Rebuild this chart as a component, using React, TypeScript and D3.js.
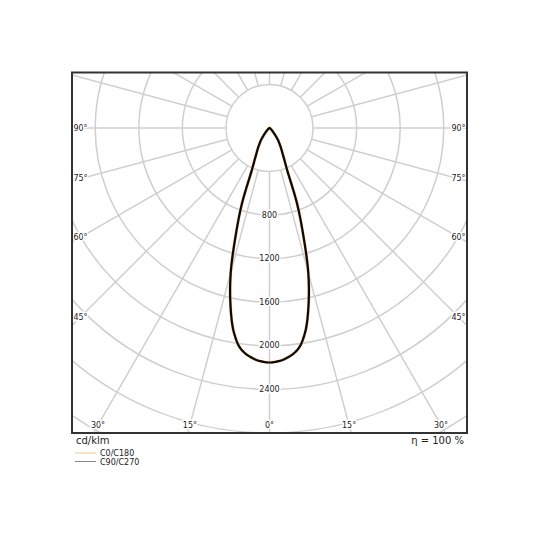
import React from "react";
import * as d3 from "d3";

// luminous intensity (cd/klm) against gamma angle
const gammas = [0, 2.5, 5, 7.5, 10, 12.5, 15, 17.5, 20, 22.5, 25, 27.5, 30, 32.5, 35, 37.5, 40, 45, 50, 55, 60, 70, 80, 90];
const c0c180 = [2153, 2140, 2105, 2041, 1896, 1657, 1375, 1030, 741, 436, 323, 255, 210, 170, 138, 100, 68, 35, 18, 9, 4, 1, 0, 0];
const c90c270 = [2153, 2140, 2105, 2041, 1896, 1657, 1375, 1030, 741, 436, 323, 255, 210, 170, 138, 100, 68, 35, 18, 9, 4, 1, 0, 0];

const ringValues = [400, 800, 1200, 1600, 2000, 2400, 2800, 3200, 3600];
const ringLabels = [800, 1200, 1600, 2000, 2400];
const spokeAngles = d3.range(0, 360, 15);
const sideLabels = [90, 75, 60, 45];
const bottomLabels = [-30, -15, 0, 15, 30];

const W = 540;
const H = 540;
const frame = { x0: 72, y0: 72.5, x1: 467, y1: 433 };
const cx = (frame.x0 + frame.x1) / 2;
const cy = 128;
const FONT = "DejaVu Sans, sans-serif";

const r = d3.scaleLinear().domain([0, 2800]).range([0, frame.y1 - cy]);

// angle 0 points down, positive to the right
const pt = (deg: number, v: number): [number, number] => {
  const a = (deg * Math.PI) / 180;
  return [cx + r(v) * Math.sin(a), cy + r(v) * Math.cos(a)];
};

// monotone cubic (Fritsch-Carlson) through the measured values, in gamma space
function monotone(xs: number[], ys: number[]) {
  const n = xs.length;
  const h = d3.range(n - 1).map((i) => xs[i + 1] - xs[i]);
  const s = d3.range(n - 1).map((i) => (ys[i + 1] - ys[i]) / h[i]);
  const m = d3.range(n).map((i) => {
    if (i === 0) return 0; // symmetric about nadir
    if (i === n - 1) return s[n - 2];
    if (s[i - 1] * s[i] <= 0) return 0;
    return (3 * (h[i - 1] + h[i])) / ((2 * h[i] + h[i - 1]) / s[i - 1] + (h[i] + 2 * h[i - 1]) / s[i]);
  });
  return (x: number) => {
    let i = d3.bisectRight(xs, x) - 1;
    i = Math.max(0, Math.min(n - 2, i));
    const t = (x - xs[i]) / h[i];
    const t2 = t * t;
    const t3 = t2 * t;
    return (
      (2 * t3 - 3 * t2 + 1) * ys[i] +
      (t3 - 2 * t2 + t) * h[i] * m[i] +
      (-2 * t3 + 3 * t2) * ys[i + 1] +
      (t3 - t2) * h[i] * m[i + 1]
    );
  };
}

function curvePoints(vals: number[]): [number, number][] {
  const f = monotone(gammas, vals);
  const steps = d3.range(-90, 90.001, 0.25);
  return steps.map((g) => pt(g, Math.max(0, f(Math.abs(g)))));
}

const line = d3.line();

const labelStyle = {
  fontFamily: FONT,
  fontSize: 8,
  fill: "#222",
  stroke: "#fff",
  strokeWidth: 3,
  paintOrder: "stroke",
} as const;

export default function App() {
  const sideDx = 189;
  const bottomY = 425;
  return (
    <svg width={W} height={H} style={{ position: "absolute", left: 0, top: 0, background: "#fff" }}>
      <defs>
        <clipPath id="frameClip">
          <rect x={frame.x0} y={frame.y0} width={frame.x1 - frame.x0} height={frame.y1 - frame.y0} />
        </clipPath>
      </defs>
      <rect width={W} height={H} fill="#fff" />
      <g clipPath="url(#frameClip)">
        {spokeAngles.map((a) => {
          const [x1, y1] = pt(a, 400);
          const [x2, y2] = pt(a, 4000);
          return <line key={a} x1={x1} y1={y1} x2={x2} y2={y2} stroke="#cfcfcf" strokeWidth={1.5} />;
        })}
        {ringValues.map((v) => (
          <circle key={v} cx={cx} cy={cy} r={r(v)} fill="none" stroke="#cfcfcf" strokeWidth={1.5} />
        ))}
        <path d={line(curvePoints(c0c180)) || ""} fill="none" stroke="#f5c48c" strokeWidth={3} strokeLinejoin="round" />
        <path d={line(curvePoints(c90c270)) || ""} fill="none" stroke="#0a0a0a" strokeWidth={2.2} strokeLinejoin="round" />
      </g>
      {ringLabels.map((v) => (
        <text key={v} x={cx} y={cy + r(v)} textAnchor="middle" dominantBaseline="central" style={labelStyle}>
          {v}
        </text>
      ))}
      {sideLabels.map((a) => {
        const dy = sideDx / Math.tan((a * Math.PI) / 180);
        return (
          <g key={a}>
            <text x={cx - sideDx} y={cy + dy} textAnchor="middle" dominantBaseline="central" style={labelStyle}>
              {a}°
            </text>
            <text x={cx + sideDx} y={cy + dy} textAnchor="middle" dominantBaseline="central" style={labelStyle}>
              {a}°
            </text>
          </g>
        );
      })}
      {bottomLabels.map((a) => (
        <text
          key={a}
          x={cx + (bottomY - cy) * Math.tan((a * Math.PI) / 180)}
          y={bottomY}
          textAnchor="middle"
          dominantBaseline="central"
          style={labelStyle}
        >
          {Math.abs(a)}°
        </text>
      ))}
      <rect
        x={frame.x0}
        y={frame.y0}
        width={frame.x1 - frame.x0}
        height={frame.y1 - frame.y0}
        fill="none"
        stroke="#333"
        strokeWidth={2}
      />
      <text x={76} y={444} fontFamily={FONT} fontSize={10} fill="#222">
        cd/klm
      </text>
      <text x={464} y={444} textAnchor="end" fontFamily={FONT} fontSize={10} fill="#222">
        η = 100 %
      </text>
      <line x1={75} x2={96} y1={453} y2={453} stroke="#f5c48c" strokeWidth={1} />
      <text x={100} y={456} fontFamily={FONT} fontSize={8} fill="#222">
        C0/C180
      </text>
      <line x1={75} x2={96} y1={461.5} y2={461.5} stroke="#888" strokeWidth={1} />
      <text x={100} y={464.5} fontFamily={FONT} fontSize={8} fill="#222">
        C90/C270
      </text>
    </svg>
  );
}
